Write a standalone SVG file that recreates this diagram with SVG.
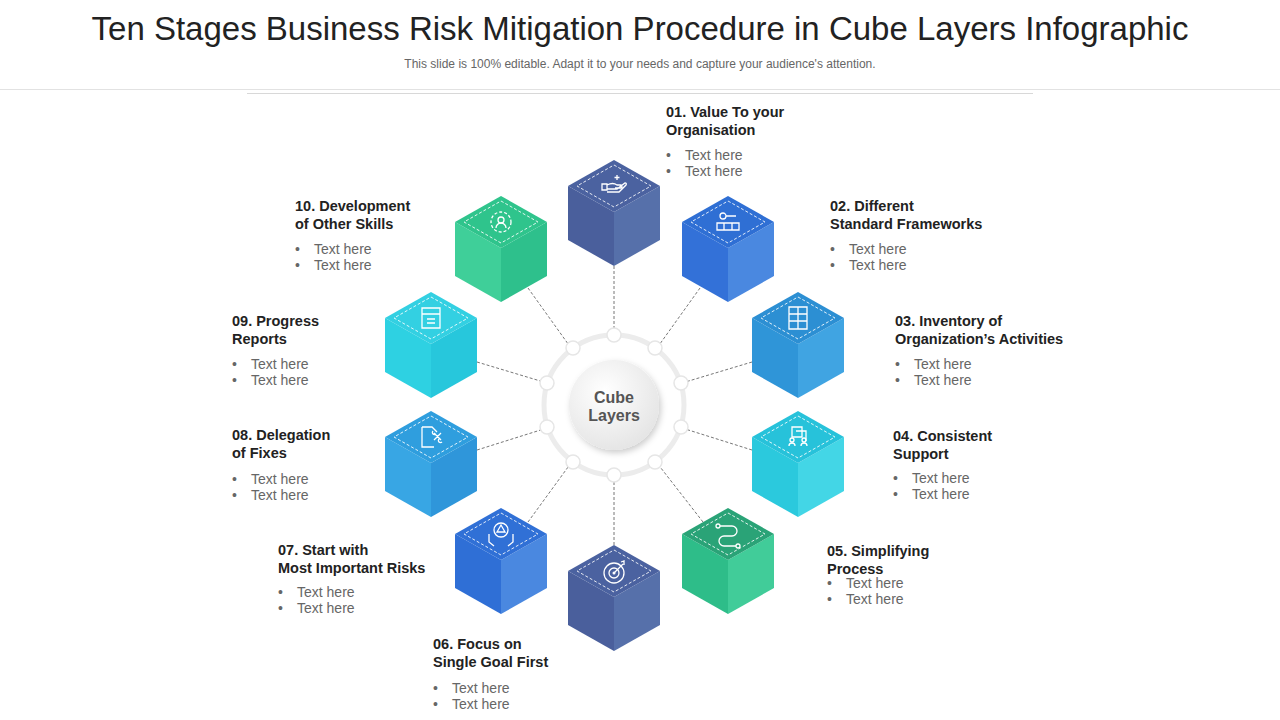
<svg xmlns="http://www.w3.org/2000/svg" width="1280" height="720" viewBox="0 0 1280 720">
<defs>
<style>
.t{font-family:"Liberation Sans",Arial,sans-serif;font-weight:bold;font-size:14.5px;fill:#222}
.b{font-family:"Liberation Sans",Arial,sans-serif;font-size:14px;fill:#666}
.dash{fill:none;stroke:#fff;stroke-width:1;stroke-dasharray:3 2;opacity:.85}
.ic{fill:none;stroke:#fff;stroke-width:1.3}
.con{stroke:#777;stroke-width:1;stroke-dasharray:3 2;fill:none}
.rn{fill:#fff;stroke:#e6e6e6;stroke-width:1.5}
</style>
<path id="top" d="M0,0 L46,26 L0,52 L-46,26Z"/>
<path id="lf" d="M-46,26 L0,52 L0,106 L-46,80Z"/>
<path id="rt" d="M46,26 L0,52 L0,106 L46,80Z"/>
<path id="dd" d="M0,5 L37,26 L0,47 L-37,26Z"/>
<radialGradient id="cg" cx="0.4" cy="0.35" r="0.7"><stop offset="0" stop-color="#ffffff"/><stop offset="1" stop-color="#e4e4e4"/></radialGradient>
<filter id="sh" x="-30%" y="-30%" width="160%" height="160%"><feDropShadow dx="2" dy="3" stdDeviation="3" flood-color="#000" flood-opacity="0.2"/></filter>
</defs>
<rect width="1280" height="720" fill="#fff"/>
<text x="640" y="40" text-anchor="middle" font-family="Liberation Sans,Arial,sans-serif" font-size="33" fill="#222">Ten Stages Business Risk Mitigation Procedure in Cube Layers Infographic</text>
<text x="640" y="68" text-anchor="middle" font-family="Liberation Sans,Arial,sans-serif" font-size="12" fill="#666">This slide is 100% editable. Adapt it to your needs and capture your audience's attention.</text>
<line x1="0" y1="89.5" x2="1280" y2="89.5" stroke="#e2e2e2"/>
<line x1="247" y1="93.5" x2="1033" y2="93.5" stroke="#d8d8d8"/>

<g id="connectors">
<line class="con" x1="614" y1="266" x2="614" y2="336"/>
<line class="con" x1="700" y1="288" x2="657" y2="348"/>
<line class="con" x1="752" y1="362" x2="682" y2="383"/>
<line class="con" x1="752" y1="450" x2="682" y2="428"/>
<line class="con" x1="703" y1="522" x2="657" y2="463"/>
<line class="con" x1="614" y1="545" x2="614" y2="475"/>
<line class="con" x1="528" y1="522" x2="571" y2="463"/>
<line class="con" x1="477" y1="450" x2="547" y2="428"/>
<line class="con" x1="477" y1="362" x2="547" y2="383"/>
<line class="con" x1="528" y1="288" x2="571" y2="348"/>
</g>

<g id="center">
<circle cx="614" cy="405" r="70" fill="none" stroke="#ececec" stroke-width="5"/>
<circle class="rn" cx="614" cy="335" r="7"/>
<circle class="rn" cx="655" cy="348" r="7"/>
<circle class="rn" cx="681" cy="383" r="7"/>
<circle class="rn" cx="681" cy="427" r="7"/>
<circle class="rn" cx="655" cy="462" r="7"/>
<circle class="rn" cx="614" cy="475" r="7"/>
<circle class="rn" cx="573" cy="462" r="7"/>
<circle class="rn" cx="547" cy="427" r="7"/>
<circle class="rn" cx="547" cy="383" r="7"/>
<circle class="rn" cx="573" cy="348" r="7"/>
<circle cx="614" cy="405" r="45" fill="url(#cg)" filter="url(#sh)"/>
<text x="614" y="403" text-anchor="middle" font-family="Liberation Sans,Arial,sans-serif" font-size="16" font-weight="bold" fill="#555">Cube</text>
<text x="614" y="421" text-anchor="middle" font-family="Liberation Sans,Arial,sans-serif" font-size="16" font-weight="bold" fill="#555">Layers</text>
</g>

<g id="cube1" transform="translate(614,160)"><use href="#lf" fill="#4a5f9c"/><use href="#rt" fill="#5670aa"/><use href="#top" fill="#4b62a0"/><use href="#dd" class="dash"/><path class="ic" d="M-12,30 h5 v-6 h-5z M-7,25 q6,-3 10,0 h4 q2,2 0,3 h-6 M-7,29 h10 l8,-6 q2,0 1,2 l-7,7 h-12"/><path class="ic" d="M3,15 v5 M0.5,17.5 h5"/></g>
<g id="cube2" transform="translate(728,196)"><use href="#lf" fill="#3371d8"/><use href="#rt" fill="#4a88e0"/><use href="#top" fill="#2f6fd4"/><use href="#dd" class="dash"/><circle class="ic" cx="-5" cy="20" r="3"/><path class="ic" d="M-2,20 h10 M-11,27 h22 v7 h-22z M-4,27 v7 M4,27 v7"/></g>
<g id="cube3" transform="translate(798,292)"><use href="#lf" fill="#2f95d8"/><use href="#rt" fill="#40a4e2"/><use href="#top" fill="#2c8fd3"/><use href="#dd" class="dash"/><path class="ic" d="M-9,15 h18 v22 h-18z M-9,22 h18 M-9,29 h18 M0,15 v22"/></g>
<g id="cube4" transform="translate(798,411)"><use href="#lf" fill="#2bc9dd"/><use href="#rt" fill="#43d6e6"/><use href="#top" fill="#27c2da"/><use href="#dd" class="dash"/><path class="ic" d="M-6,16 h10 v10 h-10z M-2,20 h10 v10 M-9,35 a3,3 0 0,1 6,0 M3,35 a3,3 0 0,1 6,0"/><circle class="ic" cx="-6" cy="29" r="2"/><circle class="ic" cx="6" cy="29" r="2"/></g>
<g id="cube5" transform="translate(728,508)"><use href="#lf" fill="#2ebd89"/><use href="#rt" fill="#41cc99"/><use href="#top" fill="#2aa377"/><use href="#dd" class="dash"/><path class="ic" d="M-8,18 h12 a5,5 0 0,1 0,10 h-8 a5,5 0 0,0 0,10 h12"/><circle class="ic" cx="-10" cy="18" r="2"/><circle class="ic" cx="10" cy="38" r="2"/></g>
<g id="cube6" transform="translate(614,545)"><use href="#lf" fill="#4a5f9c"/><use href="#rt" fill="#5670aa"/><use href="#top" fill="#4b62a0"/><use href="#dd" class="dash"/><circle class="ic" cx="0" cy="28" r="10"/><circle class="ic" cx="0" cy="28" r="5"/><circle cx="0" cy="28" r="1.5" fill="#fff"/><path class="ic" d="M0,28 L9,19 M7,17 l3,-1 l0,4"/></g>
<g id="cube7" transform="translate(501,508)"><use href="#lf" fill="#2f6fd6"/><use href="#rt" fill="#4a88e0"/><use href="#top" fill="#3070d6"/><use href="#dd" class="dash"/><circle class="ic" cx="0" cy="22" r="7"/><path class="ic" d="M0,17 l4,7 h-8z M-12,26 v8 l5,4 M12,26 v8 l-5,4"/></g>
<g id="cube8" transform="translate(431,411)"><use href="#lf" fill="#38a6e4"/><use href="#rt" fill="#2f96da"/><use href="#top" fill="#2f9ede"/><use href="#dd" class="dash"/><path class="ic" d="M-9,16 h10 l5,5 v-0 M-9,16 v20 h12 M3,22 l7,7 M10,22 l-7,7 M2,20 a2,2 0 1,0 3,3 M8,28 a2,2 0 1,0 3,3"/></g>
<g id="cube9" transform="translate(431,292)"><use href="#lf" fill="#2ed1e2"/><use href="#rt" fill="#27c7dc"/><use href="#top" fill="#33d0e2"/><use href="#dd" class="dash"/><path class="ic" d="M-9,16 h18 v20 h-18z M-9,22 h18 M-4,27 h8 M-4,31 h8"/></g>
<g id="cube10" transform="translate(501,196)"><use href="#lf" fill="#3fcf99"/><use href="#rt" fill="#2ec08c"/><use href="#top" fill="#2fc48c"/><use href="#dd" class="dash"/><circle class="ic" cx="0" cy="26" r="10" stroke-dasharray="3 2"/><circle class="ic" cx="0" cy="24" r="3"/><path class="ic" d="M-5,32 a5,5 0 0,1 10,0"/></g>

<g id="labels">
<text class="t" x="666" y="117">01. Value To your</text><text class="t" x="666" y="135">Organisation</text>
<text class="b" x="666" y="160">•<tspan x="685">Text here</tspan></text><text class="b" x="666" y="176">•<tspan x="685">Text here</tspan></text>
<text class="t" x="830" y="211">02. Different</text><text class="t" x="830" y="229">Standard Frameworks</text>
<text class="b" x="830" y="254">•<tspan x="849">Text here</tspan></text><text class="b" x="830" y="270">•<tspan x="849">Text here</tspan></text>
<text class="t" x="895" y="326">03. Inventory of</text><text class="t" x="895" y="344">Organization’s Activities</text>
<text class="b" x="895" y="369">•<tspan x="914">Text here</tspan></text><text class="b" x="895" y="385">•<tspan x="914">Text here</tspan></text>
<text class="t" x="893" y="441">04. Consistent</text><text class="t" x="893" y="459">Support</text>
<text class="b" x="893" y="483">•<tspan x="912">Text here</tspan></text><text class="b" x="893" y="499">•<tspan x="912">Text here</tspan></text>
<text class="t" x="827" y="556">05. Simplifying</text><text class="t" x="827" y="574">Process</text>
<text class="b" x="827" y="588">•<tspan x="846">Text here</tspan></text><text class="b" x="827" y="604">•<tspan x="846">Text here</tspan></text>
<text class="t" x="433" y="649">06. Focus on</text><text class="t" x="433" y="667">Single Goal First</text>
<text class="b" x="433" y="693">•<tspan x="452">Text here</tspan></text><text class="b" x="433" y="709">•<tspan x="452">Text here</tspan></text>
<text class="t" x="278" y="555">07. Start with</text><text class="t" x="278" y="573">Most Important Risks</text>
<text class="b" x="278" y="597">•<tspan x="297">Text here</tspan></text><text class="b" x="278" y="613">•<tspan x="297">Text here</tspan></text>
<text class="t" x="232" y="440">08. Delegation</text><text class="t" x="232" y="458">of Fixes</text>
<text class="b" x="232" y="484">•<tspan x="251">Text here</tspan></text><text class="b" x="232" y="500">•<tspan x="251">Text here</tspan></text>
<text class="t" x="232" y="326">09. Progress</text><text class="t" x="232" y="344">Reports</text>
<text class="b" x="232" y="369">•<tspan x="251">Text here</tspan></text><text class="b" x="232" y="385">•<tspan x="251">Text here</tspan></text>
<text class="t" x="295" y="211">10. Development</text><text class="t" x="295" y="229">of Other Skills</text>
<text class="b" x="295" y="254">•<tspan x="314">Text here</tspan></text><text class="b" x="295" y="270">•<tspan x="314">Text here</tspan></text>
</g>
</svg>
